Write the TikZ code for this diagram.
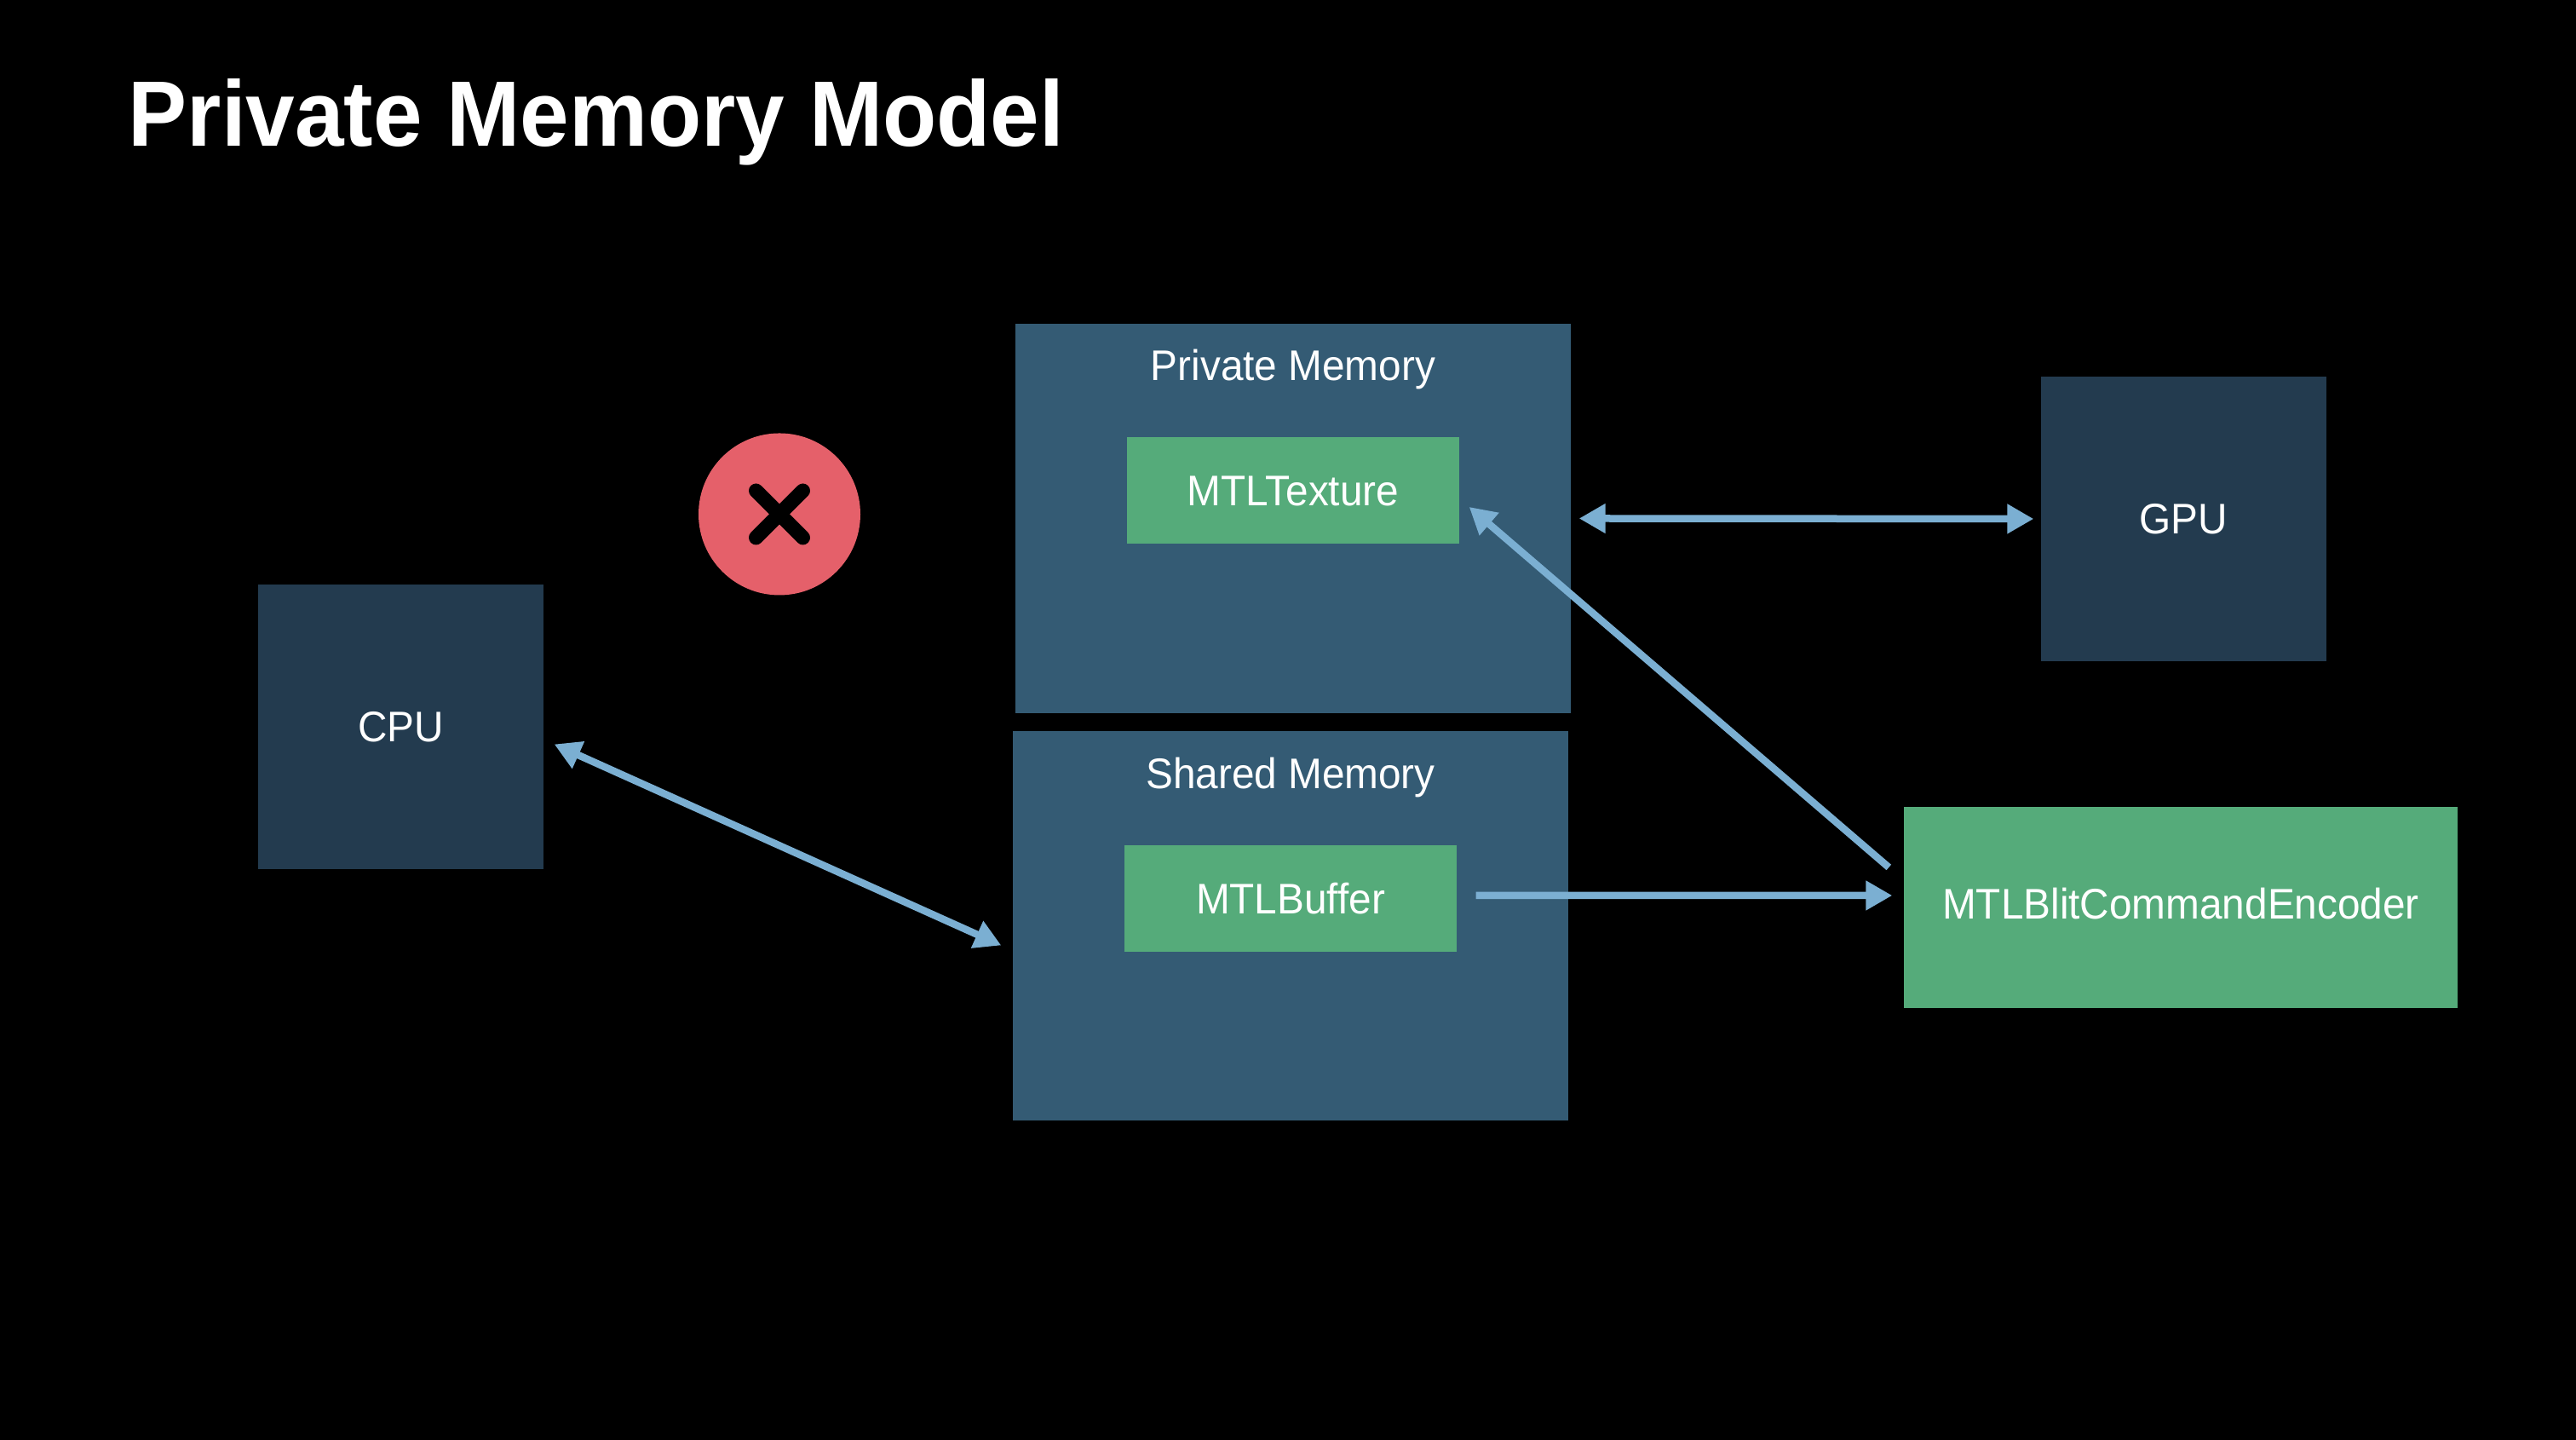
\documentclass[tikz,border=0pt]{standalone}
\usepackage{fontspec}
\setmainfont[FakeStretch=.95]{Liberation Sans}
\usetikzlibrary{arrows.meta}
\definecolor{memblue}{HTML}{345B74}
\definecolor{chipblue}{HTML}{233B4F}
\definecolor{objgreen}{HTML}{55AB7A}
\definecolor{arrblue}{HTML}{7BAFD2}
\definecolor{nored}{HTML}{E5606A}

\begin{document}
\begin{tikzpicture}[
    memory/.style={fill=memblue, minimum width=6.52cm, minimum height=4.57cm, inner sep=0pt},
    chip/.style={fill=chipblue, minimum width=3.35cm, minimum height=3.34cm, inner sep=0pt, text=white, font=\fontsize{14.3}{16}\selectfont},
    object/.style={fill=objgreen, minimum width=3.9cm, minimum height=1.25cm, inner sep=0pt, text=white, font=\fontsize{14.3}{16}\selectfont},
    caption/.style={text=white, inner sep=0pt, anchor=base, font=\fontsize{14.3}{16}\selectfont},
    arr/.style={{Triangle[length=.31cm,width=.33cm]}-{Triangle[length=.31cm,width=.33cm]}, arrblue, line width=.085cm},
    arrone/.style={-{Triangle[length=.31cm,width=.33cm]}, arrblue, line width=.085cm}
]
\fill[black] (0,0) rectangle (30.24,16.90);
\useasboundingbox (0,0) rectangle (30.24,16.90);

\node[text=white, inner sep=0pt, anchor=base west, font=\bfseries\fontsize{31}{36}\selectfont] (title) at (1.50,15.18) {Private Memory Model};

\node[memory] (private) at (15.18,10.815) {};
\node[memory] (shared) at (15.15,6.035) {};
\node[caption] (privcap) at (15.18,12.43) {Private Memory};
\node[caption] (sharedcap) at (15.15,7.64) {Shared Memory};
\node[object] (texture) at (15.18,11.14) {MTLTexture};
\node[object] (buffer) at (15.15,6.35) {MTLBuffer};
\node[chip] (cpu) at (4.705,8.365) {CPU};
\node[chip] (gpu) at (25.635,10.81) {GPU};
\node[object, minimum width=6.5cm, minimum height=2.36cm] (encoder) at (25.60,6.25) {\raisebox{.1cm}{MTLBlitCommandEncoder}};

\node[circle, fill=nored, minimum size=1.9cm, inner sep=0pt] (nope) at (9.15,10.865) {};
\draw[black, line width=.17cm, line cap=round] ([shift={(-.275,.275)}]nope.center) -- ([shift={(.275,-.275)}]nope.center);
\draw[black, line width=.17cm, line cap=round] ([shift={(.275,.275)}]nope.center) -- ([shift={(-.275,-.275)}]nope.center);

\draw[arr] ([shift={(.12,-.2)}]cpu.east) -- ([shift={(-.13,-.23)}]shared.west);
\draw[arr] ([xshift=.09cm]private.east) -- ([xshift=-.08cm]gpu.west);
\draw[arrone] ([shift={(.22,.04)}]buffer.east) -- ([shift={(-.13,.14)}]encoder.west);
\draw[arrone] ([shift={(-.17,.47)}]encoder.west) -- ([shift={(.11,-.19)}]texture.east);
\end{tikzpicture}
\end{document}
